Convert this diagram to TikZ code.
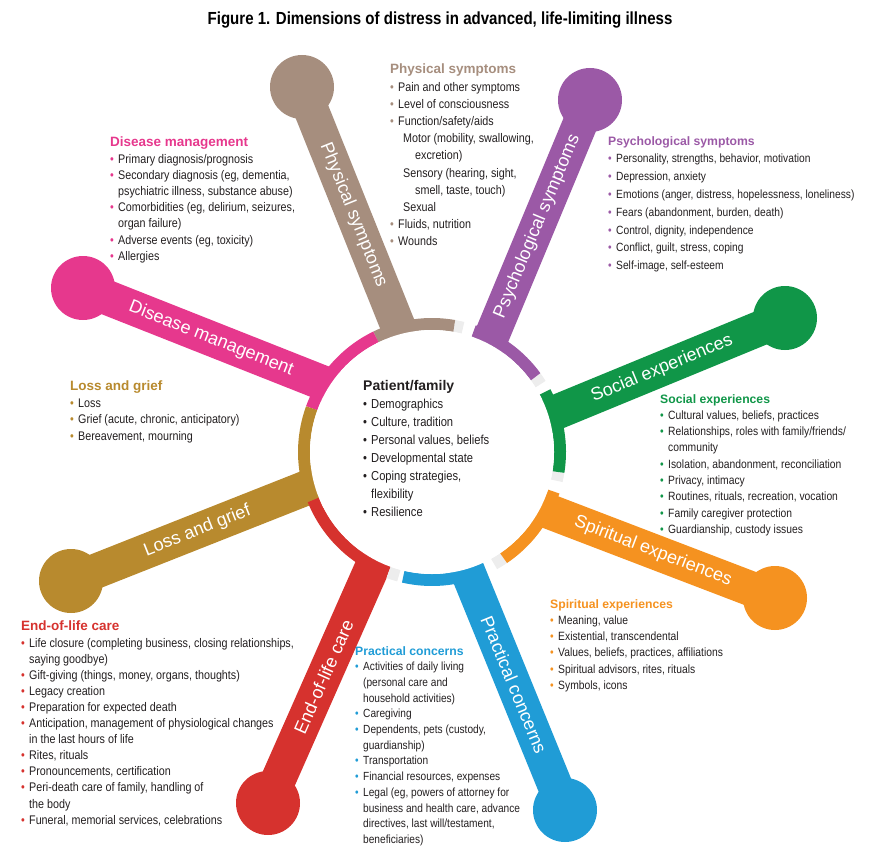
\documentclass[tikz,border=0pt]{standalone}
\usepackage{fontspec}
\setmainfont{Liberation Sans}
\newfontfamily\narrowfont[FakeStretch=0.86]{Liberation Sans}
\usetikzlibrary{calc, positioning}

\definecolor{physc}{RGB}{166,142,126}
\definecolor{psyc}{RGB}{155,89,166}
\definecolor{socc}{RGB}{16,150,72}
\definecolor{spirc}{RGB}{245,146,32}
\definecolor{pracc}{RGB}{32,156,214}
\definecolor{eolc}{RGB}{214,50,46}
\definecolor{lossc}{RGB}{184,138,46}
\definecolor{disc}{RGB}{230,56,141}
\definecolor{txt}{RGB}{35,31,32}

\newcommand{\hd}[2][13.5]{{\rmfamily\bfseries\fontsize{#1}{16}\selectfont\color{bc}#2}}
\newcommand{\bul}{\makebox[8pt][l]{\textcolor{bc}{\textbullet}}}
\newcommand{\ind}{\hspace*{8pt}}

\begin{document}
\begin{tikzpicture}[x=1pt, y=1pt,
        ball/.style={circle, inner sep=0pt, minimum size=64pt},
        bar/.style={line width=35pt},
        ringseg/.style={line width=12pt},
        gapshade/.style={line width=12pt, gray!14},
        barlabel/.style={sloped, pos=0.5, inner sep=0pt, text=white, font=\fontsize{18}{18}\selectfont},
        info/.style={anchor=north west, inner sep=0pt, align=left, text=txt, execute at begin node={\colorlet{bc}{#1}}}
    ]
    \useasboundingbox (0,0) rectangle (874,-850);

    % --- 0. TITLE ---
    \node [font=\narrowfont\bfseries\fontsize{17.5}{20}\selectfont] (title) at (440,-20) {Figure 1. Dimensions of distress in advanced, life-limiting illness};

    % --- 1. HUB ---
    \coordinate (ctr) at (432,-452);

    % --- 2. ARMS: bars and balls ---
    \node [ball, fill=physc] (phys_ball) at (302,-87) {};
    \node [ball, fill=psyc] (psy_ball) at (590,-100) {};
    \node [ball, fill=socc] (soc_ball) at (785,-318) {};
    \node [ball, fill=spirc] (spir_ball) at (775,-598) {};
    \node [ball, fill=pracc] (prac_ball) at (565,-810) {};
    \node [ball, fill=eolc] (eol_ball) at (268,-803) {};
    \node [ball, fill=lossc] (loss_ball) at (71,-581) {};
    \node [ball, fill=disc] (dis_ball) at (83,-288) {};

    \coordinate (phys_root) at ($(ctr)+(104:112)$);
    \coordinate (psy_root) at ($(ctr)+(62:112)$);
    \coordinate (soc_root) at ($(ctr)+(17:112)$);
    \coordinate (spir_root) at ($(ctr)+(-28:112)$);
    \coordinate (prac_root) at ($(ctr)+(-74:112)$);
    \coordinate (eol_root) at ($(ctr)+(-118:112)$);
    \coordinate (loss_root) at ($(ctr)+(195:112)$);
    \coordinate (dis_root) at ($(ctr)+(146:112)$);

    \draw [bar, physc] (phys_root) -- (phys_ball.center) node [barlabel] {Physical symptoms};
    \draw [bar, psyc] (psy_root) -- (psy_ball.center) node [barlabel] {Psychological symptoms};
    \draw [bar, socc] (soc_root) -- (soc_ball.center) node [barlabel] {Social experiences};
    \draw [bar, spirc] (spir_root) -- (spir_ball.center) node [barlabel] {Spiritual experiences};
    \draw [bar, pracc] (prac_root) -- (prac_ball.center) node [barlabel] {Practical concerns};
    \draw [bar, eolc] (eol_root) -- (eol_ball.center) node [barlabel] {End-of-life care};
    \draw [bar, lossc] (loss_root) -- (loss_ball.center) node [barlabel] {Loss and grief};
    \draw [bar, disc] (dis_root) -- (dis_ball.center) node [barlabel] {Disease management};

    % --- 3. RING SEGMENTS ---
    \draw [gapshade] ($(ctr)+(76:128)$) arc[start angle=76, end angle=80, radius=128];
    \draw [gapshade] ($(ctr)+(32:128)$) arc[start angle=32, end angle=36, radius=128];
    \draw [gapshade] ($(ctr)+(347:128)$) arc[start angle=347, end angle=351, radius=128];
    \draw [gapshade] ($(ctr)+(299:128)$) arc[start angle=299, end angle=304, radius=128];
    \draw [gapshade] ($(ctr)+(250:128)$) arc[start angle=250, end angle=255, radius=128];

    \draw [ringseg, physc] ($(ctr)+(80:128)$) arc[start angle=80, end angle=116, radius=128];
    \draw [ringseg, disc] ($(ctr)+(116:128)$) arc[start angle=116, end angle=160, radius=128];
    \draw [ringseg, lossc] ($(ctr)+(160:128)$) arc[start angle=160, end angle=202, radius=128];
    \draw [ringseg, eolc] ($(ctr)+(202:128)$) arc[start angle=202, end angle=250, radius=128];
    \draw [ringseg, pracc] ($(ctr)+(257:128)$) arc[start angle=257, end angle=293, radius=128];
    \draw [ringseg, spirc] ($(ctr)+(304:128)$) arc[start angle=304, end angle=342, radius=128];
    \draw [ringseg, socc] ($(ctr)+(351:128)$) arc[start angle=351, end angle=388, radius=128];
    \draw [ringseg, psyc] ($(ctr)+(36:128)$) arc[start angle=36, end angle=71, radius=128];

    \fill [white] (ctr) circle[radius=122];

    % --- 4. PATIENT/FAMILY ---
    \node [info=txt, font=\narrowfont\fontsize{13}{18}\selectfont] (pf_txt) at (363,-380) {%
        {\rmfamily\bfseries\fontsize{14}{18}\selectfont Patient/family}\\
        \bul Demographics\\
        \bul Culture, tradition\\
        \bul Personal values, beliefs\\
        \bul Developmental state\\
        \bul Coping strategies,\\
        \ind flexibility\\
        \bul Resilience};

    % --- 5. DIMENSION LISTS ---
    \node [info=physc, font=\narrowfont\fontsize{12.5}{17.2}\selectfont] (phys_txt) at (390,-64) {%
        \hd{Physical symptoms}\\
        \bul Pain and other symptoms\\
        \bul Level of consciousness\\
        \bul Function/safety/aids\\
        \hspace*{13pt}Motor (mobility, swallowing,\\
        \hspace*{25pt}excretion)\\
        \hspace*{13pt}Sensory (hearing, sight,\\
        \hspace*{25pt}smell, taste, touch)\\
        \hspace*{13pt}Sexual\\
        \bul Fluids, nutrition\\
        \bul Wounds};

    \node [info=disc, font=\narrowfont\fontsize{12.5}{16.2}\selectfont] (dis_txt) at (110,-137) {%
        \hd{Disease management}\\
        \bul Primary diagnosis/prognosis\\
        \bul Secondary diagnosis (eg, dementia,\\
        \ind psychiatric illness, substance abuse)\\
        \bul Comorbidities (eg, delirium, seizures,\\
        \ind organ failure)\\
        \bul Adverse events (eg, toxicity)\\
        \bul Allergies};

    \node [info=psyc, font=\narrowfont\fontsize{11.9}{17.8}\selectfont] (psy_txt) at (608,-136) {%
        \hd[12.2]{Psychological symptoms}\\
        \bul Personality, strengths, behavior, motivation\\
        \bul Depression, anxiety\\
        \bul Emotions (anger, distress, hopelessness, loneliness)\\
        \bul Fears (abandonment, burden, death)\\
        \bul Control, dignity, independence\\
        \bul Conflict, guilt, stress, coping\\
        \bul Self-image, self-esteem};

    \node [info=socc, font=\narrowfont\fontsize{12}{16.3}\selectfont] (soc_txt) at (660,-394) {%
        \hd[12.2]{Social experiences}\\
        \bul Cultural values, beliefs, practices\\
        \bul Relationships, roles with family/friends/\\
        \ind community\\
        \bul Isolation, abandonment, reconciliation\\
        \bul Privacy, intimacy\\
        \bul Routines, rituals, recreation, vocation\\
        \bul Family caregiver protection\\
        \bul Guardianship, custody issues};

    \node [info=spirc, font=\narrowfont\fontsize{12}{16.3}\selectfont] (spir_txt) at (550,-599) {%
        \hd[12.2]{Spiritual experiences}\\
        \bul Meaning, value\\
        \bul Existential, transcendental\\
        \bul Values, beliefs, practices, affiliations\\
        \bul Spiritual advisors, rites, rituals\\
        \bul Symbols, icons};

    \node [info=lossc, font=\narrowfont\fontsize{12.5}{16.5}\selectfont] (loss_txt) at (70,-381) {%
        \hd{Loss and grief}\\
        \bul Loss\\
        \bul Grief (acute, chronic, anticipatory)\\
        \bul Bereavement, mourning};

    \node [info=eolc, font=\narrowfont\fontsize{12.5}{16.1}\selectfont] (eol_txt) at (21,-621) {%
        \hd{End-of-life care}\\
        \bul Life closure (completing business, closing relationships,\\
        \ind saying goodbye)\\
        \bul Gift-giving (things, money, organs, thoughts)\\
        \bul Legacy creation\\
        \bul Preparation for expected death\\
        \bul Anticipation, management of physiological changes\\
        \ind in the last hours of life\\
        \bul Rites, rituals\\
        \bul Pronouncements, certification\\
        \bul Peri-death care of family, handling of\\
        \ind the body\\
        \bul Funeral, memorial services, celebrations};

    \node [info=pracc, font=\narrowfont\fontsize{11.8}{15.7}\selectfont] (prac_txt) at (355,-646) {%
        \hd[12.2]{Practical concerns}\\
        \bul Activities of daily living\\
        \ind (personal care and\\
        \ind household activities)\\
        \bul Caregiving\\
        \bul Dependents, pets (custody,\\
        \ind guardianship)\\
        \bul Transportation\\
        \bul Financial resources, expenses\\
        \bul Legal (eg, powers of attorney for\\
        \ind business and health care, advance\\
        \ind directives, last will/testament,\\
        \ind beneficiaries)};

\end{tikzpicture}
\end{document}
